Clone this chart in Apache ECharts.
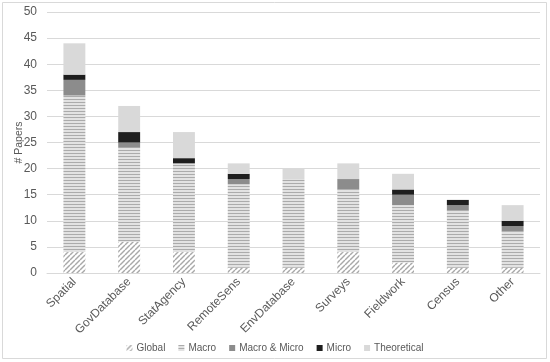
<!DOCTYPE html>
<html>
<head>
<meta charset="utf-8">
<script src="https://cdn.jsdelivr.net/npm/echarts@6/dist/echarts.min.js"></script>
<style>
html,body{margin:0;padding:0;background:#fff;}
#chart{width:550px;height:362px;}
</style>
</head>
<body>
<div id="chart"></div>
<script>
const categories = ['Spatial','GovDatabase','StatAgency','RemoteSens','EnvDatabase','Surveys','Fieldwork','Census','Other'];
const globalVals      = [4, 6, 4, 1, 1, 4, 2, 1, 1];
const macroVals       = [30, 18, 17, 16, 17, 12, 11, 11, 7];
const macroMicroVals  = [3, 1, 0, 1, 0, 2, 2, 1, 1];
const microVals       = [1, 2, 1, 1, 0, 0, 1, 1, 1];
const theoreticalVals = [6, 5, 5, 2, 2, 3, 3, 0, 3];
const seriesNames = ['Global','Macro','Macro & Micro','Micro','Theoretical'];
const yTicks = {min: 0, max: 50, interval: 5};

function diagPattern() {
  const c = document.createElement('canvas');
  c.width = 5; c.height = 5;
  const g = c.getContext('2d');
  g.fillStyle = '#ffffff'; g.fillRect(0,0,5,5);
  g.strokeStyle = '#a8a8a8'; g.lineWidth = 1.4;
  for (const o of [-5, 0, 5]) {
    g.beginPath(); g.moveTo(o, 5); g.lineTo(o + 5, 0); g.stroke();
  }
  return {image: c, repeat: 'repeat'};
}
function stripePattern() {
  const c = document.createElement('canvas');
  c.width = 4; c.height = 3;
  const g = c.getContext('2d');
  g.fillStyle = '#e2e2e2'; g.fillRect(0,0,4,3);
  g.fillStyle = '#ababab'; g.fillRect(0,0,4,1);
  return {image: c, repeat: 'repeat'};
}

const styles = [diagPattern(), stripePattern(), '#8c8c8c', '#1e1e1e', '#d9d9d9'];
const dataArr = [globalVals, macroVals, macroMicroVals, microVals, theoreticalVals];
const font = "'Liberation Sans', Arial, sans-serif";

const chart = echarts.init(document.getElementById('chart'), null, {renderer: 'canvas'});
chart.setOption({
  animation: false,
  backgroundColor: '#fff',
  textStyle: {fontFamily: font},
  graphic: [{
    type: 'rect', shape: {x: 2.5, y: 2.5, width: 544, height: 356},
    style: {fill: 'none', stroke: '#d9d9d9', lineWidth: 1}, silent: true
  }],
  grid: {left: 47, right: 10, top: 12, bottom: 89},
  legend: {
    data: seriesNames, top: 338, left: 'center', icon: 'rect',
    itemWidth: 6, itemHeight: 6, itemGap: 13,
    textStyle: {color: '#595959', fontSize: 10, fontFamily: font, padding: [0, 0, 0, -1]}
  },
  xAxis: {
    type: 'category', data: categories,
    axisLine: {lineStyle: {color: '#d9d9d9'}},
    axisTick: {show: false},
    axisLabel: {rotate: 45, color: '#595959', fontSize: 12, fontFamily: font, margin: 7, interval: 0}
  },
  yAxis: {
    type: 'value', min: yTicks.min, max: yTicks.max, interval: yTicks.interval,
    name: '# Papers', nameLocation: 'middle', nameGap: 22, nameRotate: 90,
    nameMoveOverlap: false,
    nameTextStyle: {color: '#595959', fontSize: 10.5, fontFamily: font},
    axisLine: {show: false}, axisTick: {show: false},
    axisLabel: {color: '#595959', fontSize: 12, fontFamily: font, margin: 10},
    splitLine: {lineStyle: {color: '#d9d9d9'}}
  },
  series: seriesNames.map((n, i) => ({
    name: n, type: 'bar', stack: 'total', barWidth: '40%',
    data: dataArr[i],
    itemStyle: {color: styles[i]}
  }))
});
</script>
</body>
</html>
